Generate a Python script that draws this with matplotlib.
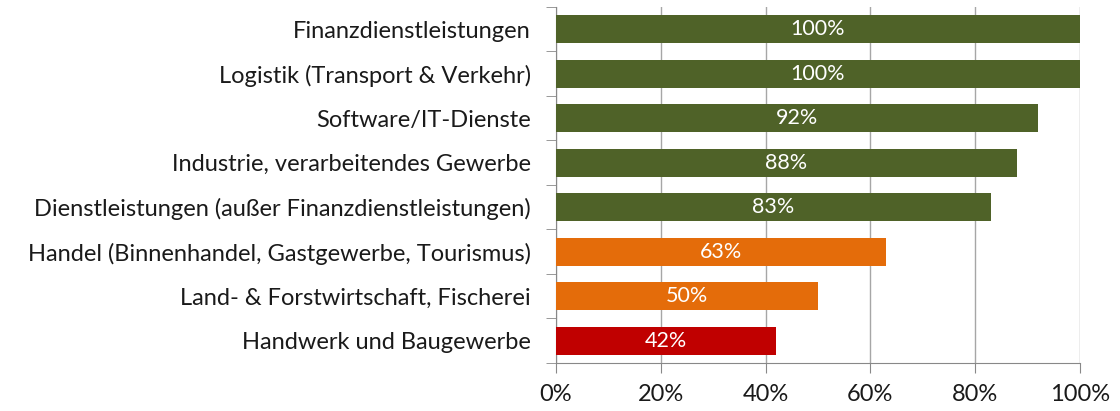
import numpy as np
import matplotlib.pyplot as plt
from matplotlib.ticker import FixedLocator, PercentFormatter

branchen = [
    "Finanzdienstleistungen",
    "Logistik (Transport & Verkehr)",
    "Software/IT-Dienste",
    "Industrie, verarbeitendes Gewerbe",
    "Dienstleistungen (außer Finanzdienstleistungen)",
    "Handel (Binnenhandel, Gastgewerbe, Tourismus)",
    "Land- & Forstwirtschaft, Fischerei",
    "Handwerk und Baugewerbe",
]
werte = [100, 100, 92, 88, 83, 63, 50, 42]
farben = ["#4F6228"] * 5 + ["#E46C0A"] * 2 + ["#C00000"]

plt.rcParams['font.family'] = ['Lato', 'DejaVu Sans']

fig = plt.figure(figsize=(11.2, 4.11), dpi=100)
ax = fig.add_axes([0.4964, 0.1168, 0.4679, 0.8662])

y = np.arange(len(branchen))
ax.barh(y, werte, height=0.62, color=farben, zorder=3)
for yi, w in zip(y, werte):
    ax.text(w / 2, yi, f"{w}%", ha='center', va='center', color='white', fontsize=15.5, zorder=4)

ax.set_xlim(0, 100)
ax.set_ylim(len(branchen) - 0.5, -0.5)
ax.set_xticks(np.arange(0, 101, 20))
ax.xaxis.set_major_formatter(PercentFormatter(decimals=0))
ax.set_yticks(y)
ax.set_yticklabels(branchen)
ax.yaxis.set_minor_locator(FixedLocator(np.arange(-0.5, len(branchen), 1)))
ax.tick_params(axis='y', which='major', length=0, pad=18, labelsize=17, labelcolor='#1a1a1a')
ax.tick_params(axis='y', which='minor', length=7, color='#888888')
ax.tick_params(axis='x', length=7, color='#888888', labelsize=17, labelcolor='#1a1a1a', pad=8)

ax.grid(axis='x', color='#A6A6A6', linewidth=1, zorder=0)
for s in ['top', 'right']:
    ax.spines[s].set_visible(False)
ax.spines['left'].set_color('#888888')
ax.spines['bottom'].set_color('#888888')

fig.savefig("out.png", dpi=100)
